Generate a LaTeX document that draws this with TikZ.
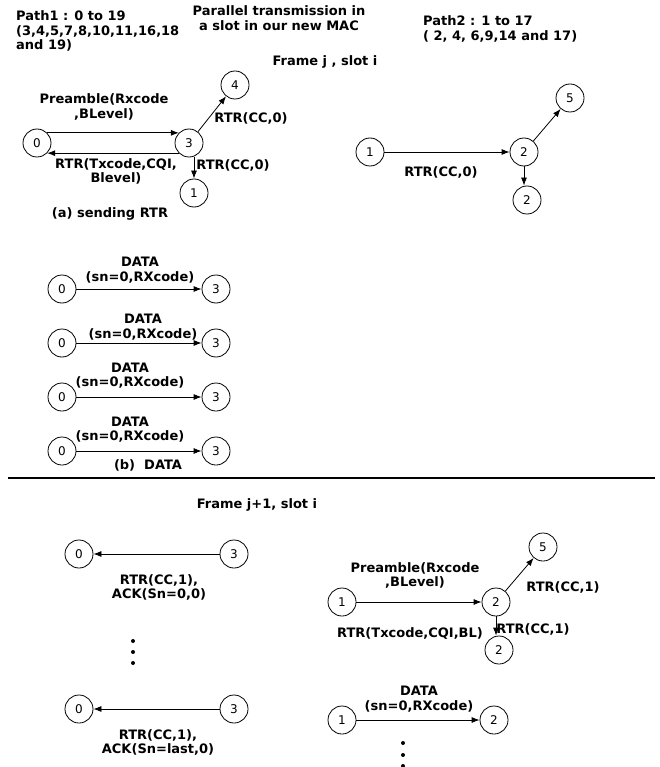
\documentclass[tikz,border=0pt]{standalone}
\usepackage{fontspec}
\setmainfont{DejaVu Sans}
\usetikzlibrary{arrows.meta}
\newcommand\lblfont{\fontsize{13}{14.5}\selectfont\bfseries}
\newcommand\numfont{\fontsize{12}{14}\selectfont}
\tikzset{
  vtx/.style={circle, draw, line width=0.8pt, minimum size=28pt, inner sep=0pt, font=\numfont},
  lbl/.style={font=\lblfont, align=center, inner sep=0pt},
  conn/.style={line width=0.8pt, -{Latex[length=8pt,width=6pt]}},
  dotmark/.style={circle, fill, inner sep=0pt, minimum size=4pt}
}
\begin{document}
\begin{tikzpicture}[x=1pt,y=-1pt]
\useasboundingbox (0,0) rectangle (660,767);
% headings
\node[lbl, align=left, anchor=west] (p1) at (16,31) {Path1 : 0 to 19\\(3,4,5,7,8,10,11,16,18\\and 19)};
\node[lbl] (title) at (279,18) {Parallel transmission in\\a slot in our new MAC};
\node[lbl, align=left, anchor=west] (p2) at (423,29) {Path2 : 1 to 17\\( 2, 4, 6,9,14 and 17)};
\node[lbl] (fj) at (325,62) {Frame j , slot i};
% (a)
\node[vtx] (a0) at (37,143) {0};
\node[vtx] (a3) at (189,143) {3};
\node[vtx] (a4) at (235,85) {4};
\node[vtx] (a1) at (194,193) {1};
\draw[conn] (a0.45) -- (a3.135);
\draw[conn] (a3.225) -- (a0.-45);
\draw[conn] (a1.north |- a3.south) -- (a1.north);
\draw[conn] (a3) -- (a4);
\node[lbl] (la1) at (104,107) {Preamble(Rxcode\\,BLevel)};
\node[lbl] (la2) at (116,171.5) {RTR(Txcode,CQI,\\Blevel)};
\node[lbl] (la3) at (251,118) {RTR(CC,0)};
\node[lbl] (la4) at (233,165) {RTR(CC,0)};
\node[lbl] (capa) at (110,214) {(a) sending RTR};
% path2 top
\node[vtx] (b1) at (370,152) {1};
\node[vtx] (b2) at (524,152) {2};
\node[vtx] (b5) at (570,98) {5};
\node[vtx] (b2b) at (527,200) {2};
\draw[conn] (b1) -- (b2);
\draw[conn] (b2) -- (b5);
\draw[conn] (b2.south) -- (b2.south |- b2b.north);
\node[lbl] (lb1) at (441,172) {RTR(CC,0)};
% (b) data rows
\foreach \i/\yy/\lx/\ly in {1/289/140/270, 2/343/143/327, 3/397/130/375.5, 4/451/130/429.5}{
  \node[vtx] (d0\i) at (62,\yy) {0};
  \node[vtx] (d3\i) at (216,\yy) {3};
  \draw[conn] (d0\i) -- (d3\i);
  \node[lbl] (ld\i) at (\lx,\ly) {DATA\\(sn=0,RXcode)};
}
\node[lbl] (capb) at (148,465) {(b)\ \ DATA};
% rule
\coordinate (r1) at (8,478);
\coordinate (r2) at (655,478);
\draw[line width=2.5pt] (r1) -- (r2);
\node[lbl] (fj1) at (257,505) {Frame j+1, slot i};
% bottom left
\node[vtx] (e0) at (79,554) {0};
\node[vtx] (e3) at (234,554) {3};
\draw[conn] (e3) -- (e0);
\node[lbl] (le) at (159,587.5) {RTR(CC,1),\\ACK(Sn=0,0)};
\node[dotmark] (ed1) at (133,641) {};
\node[dotmark] (ed2) at (133,652) {};
\node[dotmark] (ed3) at (133,663) {};
\node[vtx] (f0) at (79,709) {0};
\node[vtx] (f3) at (234,709) {3};
\draw[conn] (f3) -- (f0);
\node[lbl] (lf) at (158,742.5) {RTR(CC,1),\\ACK(Sn=last,0)};
% bottom right
\node[vtx] (g1) at (342,602) {1};
\node[vtx] (g2) at (496,602) {2};
\node[vtx] (g5) at (543,547) {5};
\node[vtx] (g2b) at (499,650) {2};
\draw[conn] (g1) -- (g2);
\draw[conn] (g2) -- (g5);
\draw[conn] (g2.south) -- (g2.south |- g2b.north);
\node[lbl] (lg1) at (415,575.5) {Preamble(Rxcode\\,BLevel)};
\node[lbl] (lg2) at (563,587) {RTR(CC,1)};
\node[lbl] (lg3) at (410,634) {RTR(Txcode,CQI,BL)};
\node[lbl] (lg4) at (533,629) {RTR(CC,1)};
\node[vtx] (h1) at (342,720) {1};
\node[vtx] (h2) at (494,720) {2};
\draw[conn] (h1) -- (h2);
\node[lbl] (lh) at (419,699) {DATA\\(sn=0,RXcode)};
\node[dotmark] (hd1) at (403,743) {};
\node[dotmark] (hd2) at (403,755) {};
\node[dotmark] (hd3) at (403,766) {};
\end{tikzpicture}
\end{document}
